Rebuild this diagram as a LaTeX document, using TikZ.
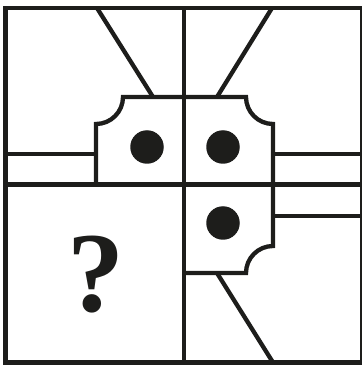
\documentclass[tikz,border=0pt]{standalone}
\usepackage{fontspec}
\newfontfamily\qfont{Liberation Serif}
\definecolor{ink}{HTML}{1D1D1B}
\begin{document}
\begin{tikzpicture}[x=1pt,y=1pt,
  stroke/.style={draw=ink,line width=4.3pt,line join=miter},
  dot/.style={circle,fill=ink,draw=none,minimum size=33.5pt,inner sep=0pt}]
\useasboundingbox (0,0) rectangle (362,365);
% outer frame
\draw[stroke] (5.5,2.5) rectangle (362,357);
% centre cross
\coordinate (ct) at (184,357);
\coordinate (cb) at (184,2.5);
\coordinate (cl) at (5.5,180.5);
\coordinate (cr) at (362,180.5);
\draw[stroke] (ct) -- (cb);
\draw[stroke] (cl) -- (cr);
% top-left box
\draw[stroke] (184,268) -- (123,268) arc[start angle=0,end angle=-90,radius=27] -- (96,180.5);
% top-right box
\draw[stroke] (184,268) -- (246,268) arc[start angle=180,end angle=270,radius=27] -- (273,180.5);
% lower-right box
\draw[stroke] (273,180.5) -- (273,119) arc[start angle=90,end angle=180,radius=27] -- (184,92);
% stubs
\draw[stroke] (5.5,211) -- (96,211);
\draw[stroke] (273,211) -- (362,211);
\draw[stroke] (273,149) -- (362,149);
% diagonals
\draw[stroke] (97,357) -- (153,268);
\draw[stroke] (272,357) -- (217,268);
\draw[stroke] (217,92) -- (273,2.5);
% dots
\node[dot] (d1) at (147,218) {};
\node[dot] (d2) at (223,218) {};
\node[dot] (d3) at (223,142) {};
% question mark
\node[text=ink,inner sep=0pt] (q) at (96,90) {\qfont\bfseries\fontsize{114}{114}\selectfont ?};
\end{tikzpicture}
\end{document}
